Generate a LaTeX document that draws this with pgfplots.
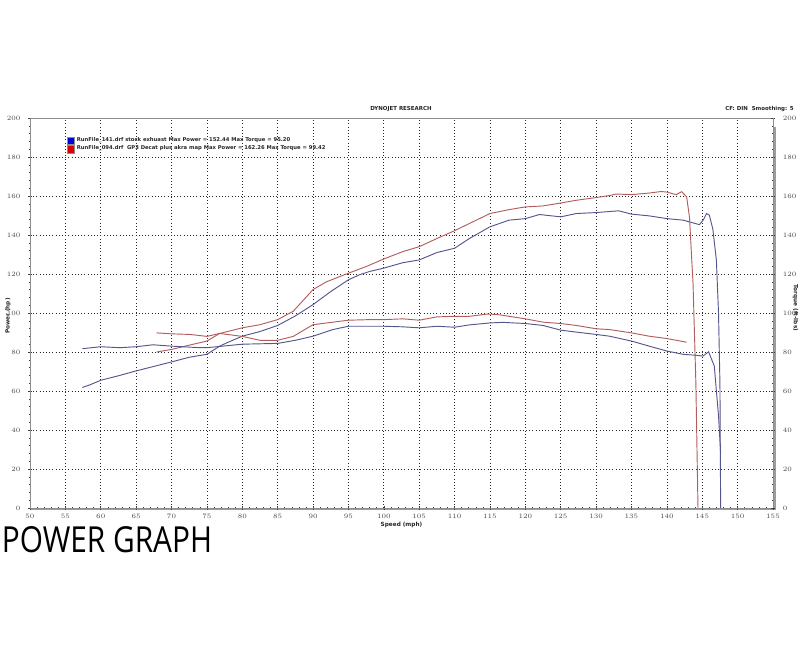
\documentclass[border=0pt]{standalone}
\usepackage{fontspec}
\setmainfont{DejaVu Sans}
\newfontfamily\titlefont{Open Sans}
\usepackage{graphicx}
\usepackage{pgfplots}
\pgfplotsset{compat=1.18}
\definecolor{bluerun}{HTML}{55558F}
\definecolor{redrun}{HTML}{B35C5C}
\definecolor{axgray}{HTML}{8C8C8C}
\definecolor{txtgray}{HTML}{4A4A4A}

\pgfplotstableread{
x y
57.4 61.8
58.5 63.2
60 65.5
62.5 67.8
65 70.3
67.5 72.6
70 74.9
72.5 77.3
75 78.8
76.8 83
78 85
80 88.1
82.5 90.5
85 93.6
87.5 98.5
90 104.3
92.5 111
95 117
96.5 119.5
98 121.3
100 123
102.7 125.8
105 127.2
107.5 131
110 133.2
112.1 138.2
115 144.2
117.7 147.6
120 148.4
122 150.5
125 149.3
127.2 151
130 151.5
133.2 152.4
135 150.7
137.5 149.8
140 148.4
142.3 147.6
144.6 145.3
145.2 148
145.6 151
146 150.2
146.5 143
147 127
147.3 100
147.5 64
147.6 0
}\bluepower

\pgfplotstableread{
x y
67.9 80
70 81.3
72.5 83.5
75 85.6
76.8 89.5
80 92.4
82.5 94
85 96.6
87.2 100.9
90 112
91.9 116
95 120.4
97.5 123.8
100 127.7
102.7 131.5
105 134
107.5 138.2
110 142.2
112.1 145.9
115 151
117.7 153
120 154.4
122.5 154.9
125 156.4
127.2 157.8
130 159.2
132 160.3
132.8 161
135 160.7
137.5 161.5
139.2 162.3
140 162
141.3 160.7
142.1 162.2
142.8 159.5
143.2 149
143.7 115
144.1 64
144.4 0
}\redpower

\pgfplotstableread{
x y
57.4 81.7
60 82.7
62.7 82.2
65 82.7
67.4 83.7
70 83
74 82.2
75 82.2
80 84
85 84.4
87.5 86
90 88.1
92.8 91.5
95 93.2
100 93.2
102.7 92.9
105 92.4
107.5 93.2
110 92.7
112.1 93.9
115 94.9
116.8 95.2
120 94.6
122.5 93.6
125 91.2
127.2 90.2
130 89.0
131.9 88.1
135 85.6
137.5 83
140 80.5
142.3 78.8
144.2 78.3
145.1 77.9
145.9 80.1
146.7 72.8
147.3 47.3
147.6 28
}\bluetorque

\pgfplotstableread{
x y
67.9 89.8
70 89.3
72.6 89
75 88
76.8 89.5
80 88
82.5 86
85 86
87.2 88
90 94
95 96.3
98 96.6
100 96.6
102.7 97
105 96.3
107.5 98
110 98.3
112.1 98.3
114.5 99.4
115.9 99.3
117.7 98.3
120 97
122.5 95.3
125 94.6
127.2 93.6
130 91.9
131.9 91.5
135 89.8
137.5 88.1
140 86.9
142.8 85
}\redtorque

\begin{document}
\begin{tikzpicture}[x=0.75pt,y=0.75pt]
\path[use as bounding box] (0,0) rectangle (800,655);
% thick frame (bottom and right)
\draw[axgray!85, line width=2.0pt] (30,146) -- (775,146) -- (775,528);

\begin{axis}[
  at={(22.5pt,110.25pt)}, anchor=south west,
  scale only axis, width=557.25pt, height=292.5pt,
  xmin=50, xmax=155, ymin=0, ymax=200,
  xtick={50,55,...,155}, ytick={0,20,...,200},
  minor x tick num=4, minor y tick num=4,
  ytick pos=left, xtick pos=bottom,
  grid=major, major grid style={black!85, dotted, line width=0.5pt},
  minor grid style={draw=none},
  axis line style={axgray, line width=0.6pt},
  tick style={black!75, line width=0.4pt},
  major tick length=2.5pt, minor tick length=1.8pt, tick align=center,
  ticklabel style={font=\fontsize{3.9}{4.5}\selectfont\bfseries, text=txtgray},
  xticklabel style={anchor=center, yshift=-5.2pt},
  yticklabel style={anchor=east, xshift=-2.4pt},
  xlabel={Speed (mph)}, ylabel={Power (hp)},
  label style={font=\fontsize{4.3}{5}\selectfont\bfseries, text=black!85},
  xlabel style={at={(axis description cs:0.5,-0.043)}, anchor=center},
  ylabel style={at={(axis description cs:-0.0296,0.492)}, anchor=center},
  clip=false,
  legend style={at={(rel axis cs:0.0494,0.952)}, anchor=north west, draw=none, fill=none,
    inner sep=0pt, outer sep=0pt, row sep=0.2pt, column sep=1.5pt,
    font=\fontsize{3.95}{4.6}\selectfont\bfseries, text=black!85,
    nodes={inner sep=0.3pt}},
  legend cell align=left,
]
\addplot[bluerun, line width=0.7pt, forget plot] table {\bluepower};
\addplot[redrun, line width=0.7pt, forget plot] table {\redpower};
\addplot[bluerun, line width=0.7pt, forget plot] table {\bluetorque};
\addplot[redrun, line width=0.7pt, forget plot] table {\redtorque};
\addlegendimage{legend image code/.code={\draw[fill=blue!85!black, draw=black!45, line width=0.3pt] (0pt,-2.85pt) rectangle (5.5pt,2.85pt);}}
\addlegendentry{RunFile\_141.drf stock exhuast Max Power = 152.44 Max Torque = 95.20}
\addlegendimage{legend image code/.code={\draw[fill=red!85!black, draw=black!45, line width=0.3pt] (0pt,-2.85pt) rectangle (5.5pt,2.85pt);}}
\addlegendentry{RunFile\_094.drf\ \ GP3 Decat plus akra map Max Power = 162.26 Max Torque = 99.42}
\end{axis}

\begin{axis}[
  at={(22.5pt,110.25pt)}, anchor=south west,
  scale only axis, width=557.25pt, height=292.5pt,
  xmin=50, xmax=155, ymin=0, ymax=200,
  axis x line=none, axis y line*=right,
  ytick={0,20,...,200}, minor y tick num=4,
  axis line style={axgray, line width=0.6pt, -},
  tick style={black!75, line width=0.4pt},
  major tick length=2.5pt, minor tick length=1.8pt, tick align=center,
  ticklabel style={font=\fontsize{3.9}{4.5}\selectfont\bfseries, text=txtgray},
  yticklabel style={anchor=west, xshift=2.6pt},
  ylabel={Torque (ft-lbs)},
  label style={font=\fontsize{4.3}{5}\selectfont\bfseries, text=black!85},
  ylabel style={at={(axis description cs:1.0303,0.513)}, anchor=center, rotate=180},
]
\end{axis}

\node[anchor=base, inner sep=0pt, font=\fontsize{4.1}{5}\selectfont\bfseries, text=black!85] at (401,544.7) {DYNOJET RESEARCH};
\node[anchor=base west, inner sep=0pt, font=\fontsize{4.1}{5}\selectfont\bfseries, text=black!85] at (725,544.7) {CF: DIN\ \ Smoothing: 5};
\node[anchor=south west, inner sep=0pt] at (1.7,102) {\resizebox{157.5pt}{19.5pt}{\titlefont POWER GRAPH}};
\end{tikzpicture}
\end{document}
